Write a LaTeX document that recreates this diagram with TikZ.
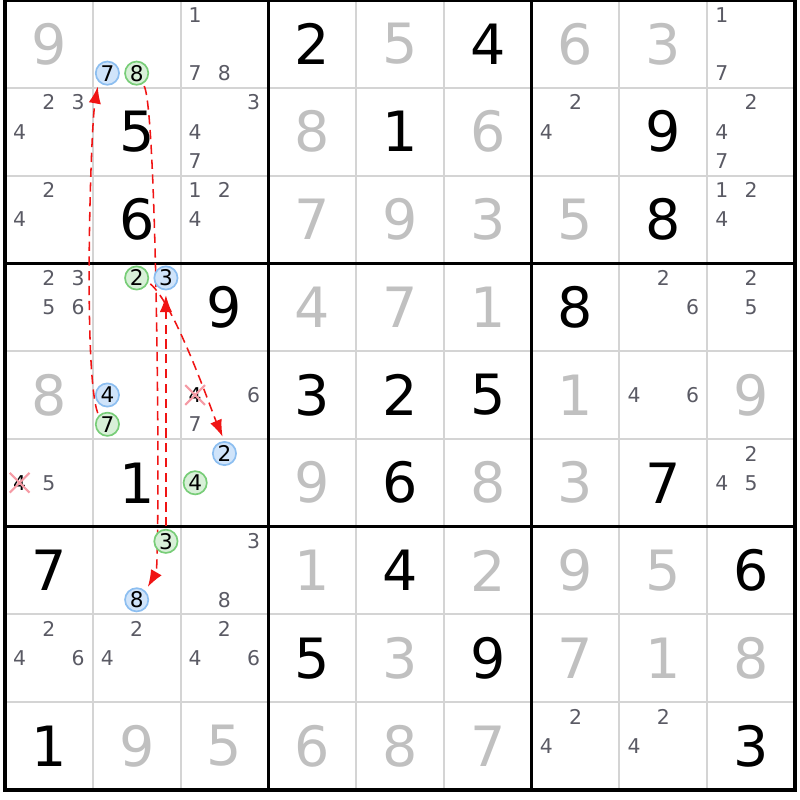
\documentclass[tikz,border=0pt]{standalone}
\usepackage{fontspec}
\setmainfont{DejaVu Sans}
\usetikzlibrary{arrows.meta,shapes.misc,backgrounds}
\definecolor{cluegrey}{RGB}{192,192,192}
\definecolor{candgrey}{RGB}{90,90,100}
\definecolor{gridgrey}{RGB}{212,212,212}
\definecolor{bluefill}{RGB}{208,228,250}
\definecolor{blueline}{RGB}{140,190,240}
\definecolor{greenfill}{RGB}{216,240,216}
\definecolor{greenline}{RGB}{120,205,120}
\definecolor{crosspink}{RGB}{245,155,165}
\definecolor{linkred}{RGB}{240,20,20}
% cell column / row / candidate digit -> position of the pencil mark
\tikzset{pencil/.style args={#1/#2/#3}{at={({#1-1+(2*mod(#3-1,3)+1)/6},{1-#2-(2*int((#3-1)/3)+1)/6})}}}

\begin{document}
\begin{tikzpicture}
	\tikzstyle{solved}=[font=\fontsize{18}{18}\selectfont, inner sep=0]
	\tikzstyle{given}=[solved, text=cluegrey]
	\tikzstyle{cand}=[font=\fontsize{6.6}{6.6}\selectfont, text=candgrey, inner sep=0]
	\tikzstyle{chain}=[circle, inner sep=0, minimum size=2.65mm, line width=0.55pt, font=\fontsize{7}{7}\selectfont]
	\tikzstyle{bluecand}=[chain, draw=blueline, fill=bluefill]
	\tikzstyle{greencand}=[chain, draw=greenline, fill=greenfill]
	\tikzstyle{gone}=[cand, text=black, cross out, minimum size=2mm, draw=crosspink, line width=0.7pt]
	\tikzstyle{connect}=[-{Latex[length=5.5pt,width=4pt]}, linkred, line width=0.5pt, dash pattern=on 3pt off 1.8pt, shorten >=1.5pt, shorten <=0.8pt]
	\tikzstyle{cellline}=[gridgrey, line width=0.65pt]
	\tikzstyle{boxline}=[black, line width=1.1pt]

	\useasboundingbox (-0.057,-9.114) rectangle (9.057,0);

	\begin{pgfonlayer}{background}
	\foreach \i in {1,2,4,5,7,8} {
		\draw[cellline] (\i,0) -- (\i,-9);
		\draw[cellline] (0,-\i) -- (9,-\i);
	}
	\foreach \i in {3,6} {
		\draw[boxline] (\i,0) -- (\i,-9);
		\draw[boxline] (0,-\i) -- (9,-\i);
	}
	\draw[boxline] (0,0) rectangle (9,-9);
	\end{pgfonlayer}

	% filled in digits
	\foreach \col/\row/\val in {4/1/2, 6/1/4, 2/2/5, 5/2/1, 8/2/9, 2/3/6, 8/3/8, 3/4/9, 7/4/8, 4/5/3, 5/5/2, 6/5/5, 2/6/1, 5/6/6, 8/6/7, 1/7/7, 5/7/4, 9/7/6, 4/8/5, 6/8/9, 1/9/1, 9/9/3}
		\node[solved] at ({\col-0.5},{0.5-\row}) {\val};
	\foreach \col/\row/\val in {1/1/9, 5/1/5, 7/1/6, 8/1/3, 4/2/8, 6/2/6, 4/3/7, 5/3/9, 6/3/3, 7/3/5, 4/4/4, 5/4/7, 6/4/1, 1/5/8, 7/5/1, 9/5/9, 4/6/9, 6/6/8, 7/6/3, 4/7/1, 6/7/2, 7/7/9, 8/7/5, 5/8/3, 7/8/7, 8/8/1, 9/8/8, 2/9/9, 3/9/5, 4/9/6, 5/9/8, 6/9/7}
		\node[given] at ({\col-0.5},{0.5-\row}) {\val};

	% pencil marks
	\foreach \col/\row/\ks in {3/1/{1,7,8}, 9/1/{1,7}, 1/2/{2,3,4}, 3/2/{3,4,7}, 7/2/{2,4}, 9/2/{2,4,7}, 1/3/{2,4}, 3/3/{1,2,4}, 9/3/{1,2,4}, 1/4/{2,3,5,6}, 8/4/{2,6}, 9/4/{2,5}, 3/5/{6,7}, 8/5/{4,6}, 1/6/{5}, 9/6/{2,4,5}, 3/7/{3,8}, 1/8/{2,4,6}, 2/8/{2,4}, 3/8/{2,4,6}, 7/9/{2,4}, 8/9/{2,4}}
		\foreach \k in \ks
			\node[cand, pencil=\col/\row/\k] {\k};
	\node[gone, pencil=3/5/4] (r5c3n4) {4};
	\node[gone, pencil=1/6/4] (r6c1n4) {4};

	% the chain
	\node[bluecand, pencil=2/1/7] (r1c2n7) {7};
	\node[greencand, pencil=2/1/8] (r1c2n8) {8};
	\node[greencand, pencil=2/4/2] (r4c2n2) {2};
	\node[bluecand, pencil=2/4/3] (r4c2n3) {3};
	\node[bluecand, pencil=2/5/4] (r5c2n4) {4};
	\node[greencand, pencil=2/5/7] (r5c2n7) {7};
	\node[bluecand, pencil=3/6/2] (r6c3n2) {2};
	\node[greencand, pencil=3/6/4] (r6c3n4) {4};
	\node[greencand, pencil=2/7/3] (r7c2n3) {3};
	\node[bluecand, pencil=2/7/8] (r7c2n8) {8};

	\begin{pgfonlayer}{background}
	\path
	(r5c2n7.135) edge [connect, out=110, in=-100, looseness=0.35] (r1c2n7.225)
	(r1c2n8.-60) edge [connect, out=-60, in=60, looseness=0.15] (r7c2n8.45)
	(r7c2n3) edge [connect] (r4c2n3)
	(r4c2n2.-20) edge [connect, out=-40, in=113, looseness=0.5] (r6c3n2.north);
	\end{pgfonlayer}
\end{tikzpicture}
\end{document}
